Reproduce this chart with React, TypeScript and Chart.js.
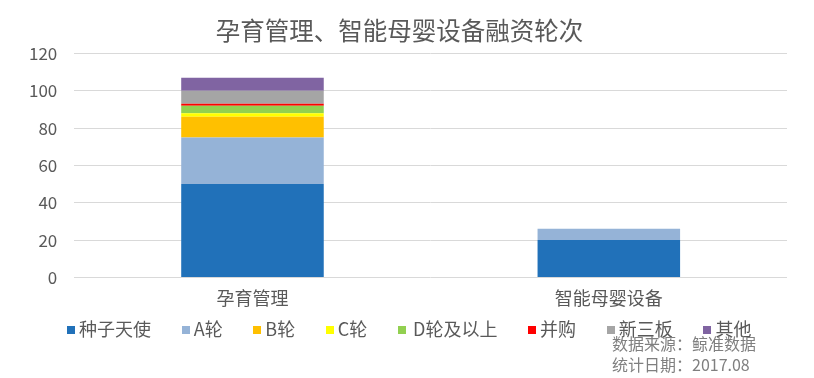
import React, { useEffect, useRef } from "react";
import { Chart, registerables } from "chart.js";

Chart.register(...registerables);

const categories = ["孕育管理", "智能母婴设备"];
const seriesNames = ["种子天使", "A轮", "B轮", "C轮", "D轮及以上", "并购", "新三板", "其他"];
const seedAngel = [50, 20];
const roundA = [25, 6];
const roundB = [11, 0];
const roundC = [2, 0];
const roundD = [4, 0];
const mergers = [1, 0];
const neeq = [7, 0];
const others = [7, 0];
const colors = ["#2171B9", "#95B3D7", "#FFC000", "#FFFF00", "#92D050", "#FF0000", "#A5A5A5", "#8064A2"];
const yTicks = [0, 20, 40, 60, 80, 100, 120];
const titleText = "孕育管理、智能母婴设备融资轮次";
const sourceText = "数据来源：鲸准数据";
const dateText = "统计日期：2017.08";

const FONT = "'Noto Sans CJK SC', 'Noto Sans', sans-serif";

export default function App() {
  const ref = useRef<HTMLCanvasElement>(null);
  useEffect(() => {
    const values = [seedAngel, roundA, roundB, roundC, roundD, mergers, neeq, others];
    const chart = new Chart(ref.current!, {
      type: "bar",
      data: {
        labels: categories,
        datasets: seriesNames.map((n, i) => ({
          label: n,
          data: values[i],
          backgroundColor: colors[i],
          borderWidth: 0,
          barPercentage: 0.4,
          categoryPercentage: 1,
        })),
      },
      options: {
        animation: false,
        responsive: false,
        maintainAspectRatio: false,
        layout: { padding: { left: 12, right: 27, top: 0, bottom: 59 } },
        plugins: {
          title: {
            display: true,
            text: titleText,
            color: "#595959",
            font: { family: FONT, size: 24.5, weight: "normal" },
            padding: { top: 16, bottom: 8 },
          },
          legend: { display: false },
          tooltip: { enabled: false },
        },
        scales: {
          x: {
            stacked: true,
            grid: { display: false, drawTicks: false },
            border: { display: false },
            ticks: { color: "#595959", padding: 10, font: { family: FONT, size: 18 } },
          },
          y: {
            stacked: true,
            min: 0,
            max: 120,
            afterBuildTicks: (axis: any) => {
              axis.ticks = yTicks.map((v) => ({ value: v }));
            },
            grid: { color: "#D9D9D9", drawTicks: false },
            border: { display: false },
            ticks: { color: "#595959", padding: 17, font: { family: FONT, size: 17 } },
          },
        },
      },
    });
    return () => chart.destroy();
  }, []);
  return (
    <div style={{ position: "fixed", left: 0, top: 0, width: 814, height: 378, background: "#fff" }}>
      <canvas ref={ref} width={814} height={378} style={{ width: 814, height: 378 }} />
      <div
        style={{
          position: "absolute",
          left: 67,
          top: 317,
          height: 22,
          display: "flex",
          alignItems: "center",
          gap: 30.7,
          fontFamily: FONT,
          fontSize: 18,
          color: "#595959",
          whiteSpace: "nowrap",
        }}
      >
        {seriesNames.map((n, i) => (
          <div key={n} style={{ display: "flex", alignItems: "center" }}>
            <span
              style={{
                display: "inline-block",
                width: 8,
                height: 8,
                marginTop: 3,
                marginRight: i === 4 ? 7 : 4,
                background: colors[i],
              }}
            />
            <span style={{ lineHeight: "22px" }}>{n}</span>
          </div>
        ))}
      </div>
      <div
        style={{
          position: "absolute",
          left: 612,
          top: 333,
          fontFamily: FONT,
          fontSize: 16,
          lineHeight: "21px",
          color: "#7F7F7F",
          whiteSpace: "nowrap",
        }}
      >
        <div>{sourceText}</div>
        <div>{dateText}</div>
      </div>
    </div>
  );
}
